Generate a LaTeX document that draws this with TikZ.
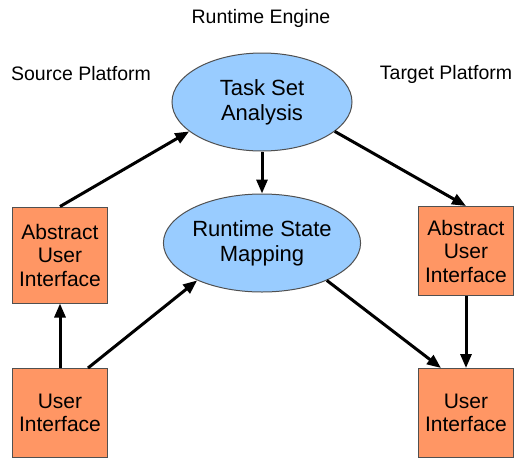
\documentclass[tikz,border=0pt]{standalone}
\usepackage{fontspec}
\setmainfont{Liberation Sans}
\usetikzlibrary{shapes.geometric,arrows.meta}
\definecolor{boxfill}{RGB}{255,150,100}
\definecolor{ellfill}{RGB}{153,204,255}
\definecolor{edgegray}{RGB}{80,80,80}
\begin{document}
\begin{tikzpicture}[x=1pt,y=-1pt,
  uibox/.style={draw=edgegray,line width=1pt,fill=boxfill,minimum width=95pt,
    align=center,inner sep=0pt,font=\fontsize{21}{23.5}\selectfont},
  phase/.style={ellipse,draw=edgegray,line width=1pt,fill=ellfill,
    minimum width=180pt,minimum height=98pt,align=center,inner sep=0pt,
    font=\fontsize{22}{25}\selectfont},
  heading/.style={font=\fontsize{19.5}{22}\selectfont},
  flow/.style={line width=3pt,-{Triangle[length=14pt,width=11pt]}}]
\useasboundingbox (0,0) rectangle (515,459);
% headings
\node[heading] (eng) at (261,18) {Runtime Engine};
\node[heading] (src) at (81,74) {Source Platform};
\node[heading] (tgt) at (446,74) {Target Platform};
% engine stages
\node[phase] (tsa) at (262,102) {Task Set\\Analysis};
\node[phase] (rsm) at (262,243) {Runtime State\\Mapping};
% platform models
\node[uibox,minimum height=96pt] (aui1) at (60,255) {Abstract\\User\\Interface};
\node[uibox,minimum height=89pt] (ui1) at (60,413) {User\\Interface};
\node[uibox,minimum height=89pt] (aui2) at (466,251) {Abstract\\User\\Interface};
\node[uibox,minimum height=89pt] (ui2) at (466,413) {User\\Interface};
% transformations
\draw[flow] (ui1.north) -- (aui1.south);
\draw[flow] (aui1.north) -- (tsa.-158);
\draw[flow] ([xshift=28pt]ui1.north) -- (rsm.-150);
\draw[flow] (tsa.south) -- (rsm.north);
\draw[flow] (tsa.-22) -- (aui2.north);
\draw[flow] (rsm.-30) -- ([xshift=-25pt]ui2.north);
\draw[flow] (aui2.south) -- (ui2.north);
\end{tikzpicture}
\end{document}
